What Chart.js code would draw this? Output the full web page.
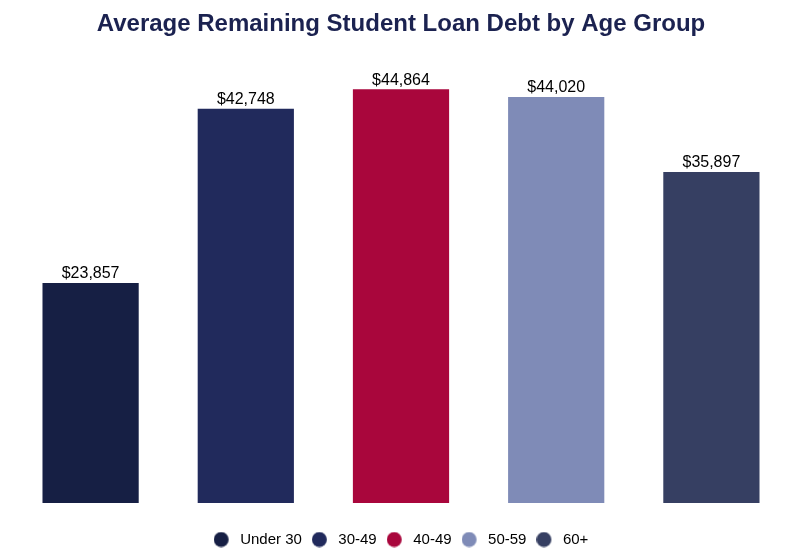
<!DOCTYPE html>
<html>
<head>
<meta charset="utf-8">
<script src="https://cdn.jsdelivr.net/npm/chart.js@4/dist/chart.umd.min.js"></script>
<style>
  html, body { margin: 0; padding: 0; background: #ffffff; }
  #wrap { width: 800px; height: 557px; }
</style>
</head>
<body>
<div id="wrap"><canvas id="c" width="800" height="557"></canvas></div>
<script>
const categories = ["Under 30", "30-49", "40-49", "50-59", "60+"];
const debtValues = [23857, 42748, 44864, 44020, 35897];
const barColors = ["#161f44", "#212a5c", "#a9063c", "#7f8bb7", "#363f62"];

// legend marker: a 15px circle inside a slightly wider box
function makeDot(color) {
  const cv = document.createElement('canvas');
  cv.width = 19; cv.height = 16;
  const c = cv.getContext('2d');
  c.fillStyle = color;
  c.beginPath();
  c.arc(7.5, 8, 7.5, 0, Math.PI * 2);
  c.fill();
  return cv;
}

const valueLabels = {
  id: 'valueLabels',
  afterDatasetsDraw(chart) {
    const ctx = chart.ctx;
    const meta = chart.getDatasetMeta(0);
    ctx.save();
    ctx.font = '16px "Liberation Sans", Arial, sans-serif';
    ctx.fillStyle = '#000000';
    ctx.textAlign = 'center';
    ctx.textBaseline = 'bottom';
    meta.data.forEach((bar, i) => {
      const v = chart.data.datasets[0].data[i];
      ctx.fillText('$' + v.toLocaleString('en-US'), bar.x, bar.y - 1);
    });
    ctx.restore();
  }
};

new Chart(document.getElementById('c'), {
  type: 'bar',
  data: {
    labels: categories,
    datasets: [{
      label: 'Average Remaining Debt',
      data: debtValues,
      backgroundColor: barColors,
      borderWidth: 0,
      categoryPercentage: 1,
      barPercentage: 0.62
    }]
  },
  options: {
    responsive: false,
    animation: false,
    layout: { padding: { left: 13, right: 11, top: 0, bottom: 0 } },
    scales: {
      x: {
        display: true,
        grid: { display: false, drawTicks: false },
        border: { display: false },
        ticks: { display: false },
        afterFit(scale) { scale.height = 19; }
      },
      y: { display: false, min: 0, max: Math.max(...debtValues) * 1.1 }
    },
    plugins: {
      title: {
        display: true,
        text: 'Average Remaining Student Loan Debt by Age Group',
        color: '#1b2250',
        font: { family: '"Liberation Sans", Arial, sans-serif', size: 24, weight: 'bold' },
        padding: { top: 10, bottom: 9 }
      },
      legend: {
        position: 'bottom',
        labels: {
          usePointStyle: true,
          pointStyleWidth: 19,
          boxWidth: 19,
          boxHeight: 10.6,
          color: '#444444',
          font: { family: '"Liberation Sans", Arial, sans-serif', size: 15 },
          padding: 10,
          generateLabels(chart) {
            const ds = chart.data.datasets[0];
            return chart.data.labels.map((l, i) => ({
              text: l,
              fillStyle: ds.backgroundColor[i],
              strokeStyle: ds.backgroundColor[i],
              lineWidth: 0,
              pointStyle: makeDot(ds.backgroundColor[i]),
              hidden: false,
              index: i,
              datasetIndex: 0
            }));
          }
        }
      },
      tooltip: { enabled: false }
    }
  },
  plugins: [valueLabels]
});
</script>
</body>
</html>
